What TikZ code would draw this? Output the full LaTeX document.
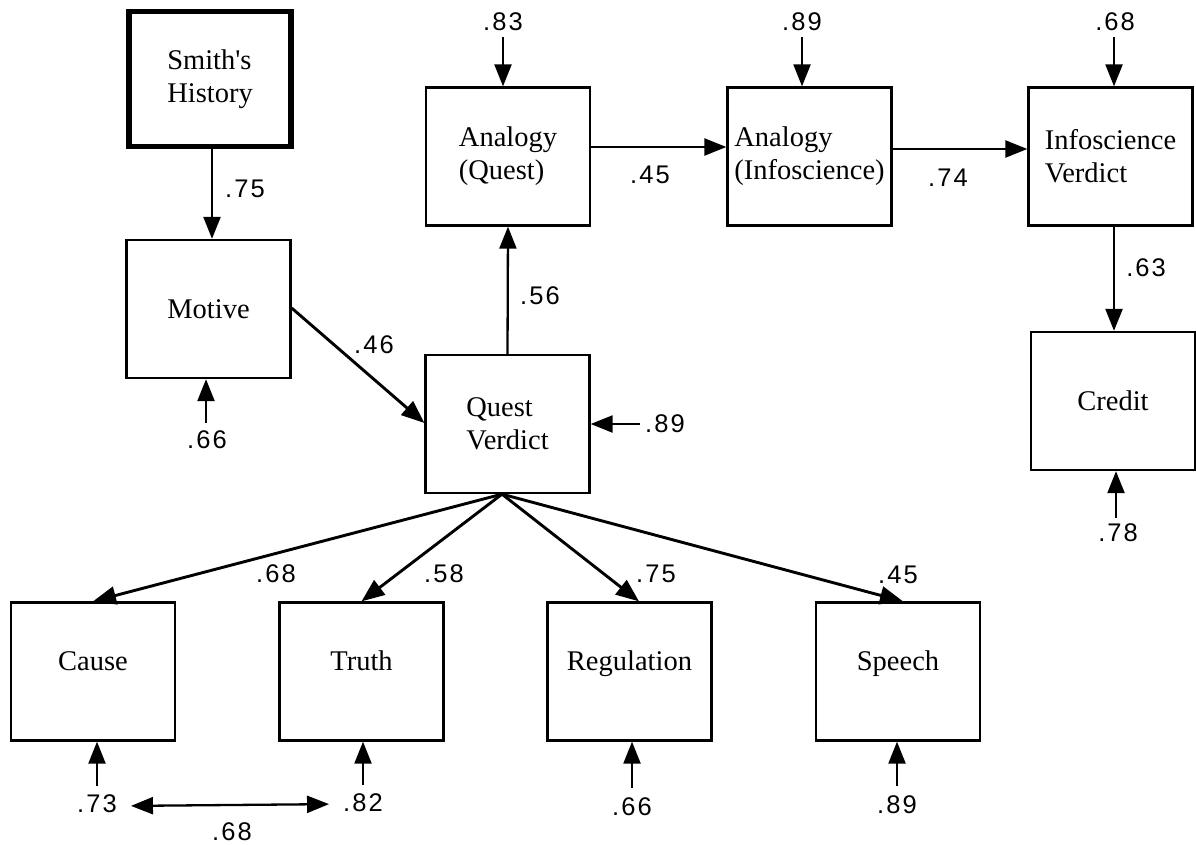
\documentclass[tikz,border=0pt]{standalone}
\usepackage{fontspec}
\setmainfont{Liberation Serif}
\newfontfamily\numfont[LetterSpace=8]{Liberation Sans}
\usetikzlibrary{arrows.meta}
\begin{document}
\begin{tikzpicture}[x=1pt,y=-1pt,
  box/.style={draw, line width=2.3pt, minimum width=164pt, minimum height=138pt,
    inner sep=0pt, align=left, font=\fontsize{28.5}{33}\selectfont},
  lowbox/.style={box, text height=19pt, text depth=22pt},
  num/.style={inner sep=0pt, font=\numfont\fontsize{25.5}{28}\selectfont},
  arr/.style={line width=2.3pt, -{Triangle[length=22pt,width=17pt]}},
  thickarr/.style={line width=2.9pt, -{Triangle[length=23pt,width=18pt]}},
  dblarr/.style={line width=2.3pt, {Triangle[length=22pt,width=17pt]}-{Triangle[length=22pt,width=17pt]}},
]
\useasboundingbox (0,0) rectangle (1196,844);
% boxes
\node[box, line width=5.5pt, minimum width=162pt, minimum height=135pt] (smith) at (210,79) {Smith\textquotesingle s\\History};
\node[box] (motive) at (208.5,309) {Motive};
\node[box] (qv) at (507.5,424) {Quest\\Verdict};
\node[box] (aq) at (508,156.5) {Analogy\\(Quest)};
\node[box] (ai) at (809.5,156.5) {Analogy\\(Infoscience)};
\node[box] (iv) at (1110.5,156.5) {Infoscience\\Verdict};
\node[box] (credit) at (1113,401) {Credit};
\node[lowbox] (cause) at (93,671.5) {Cause};
\node[lowbox] (truth) at (361.5,671.5) {Truth};
\node[lowbox] (reg) at (629.5,671.5) {Regulation};
\node[lowbox] (speech) at (898,671.5) {Speech};
% error / residual labels
\node[num] (e83) at (503,22) {.83};
\node[num] (e89a) at (802,22) {.89};
\node[num] (e68i) at (1115,22) {.68};
\node[num] (e89q) at (665,424) {.89};
\node[num] (e66m) at (207,440) {.66};
\node[num] (e78) at (1118,533) {.78};
\node[num] (e73) at (97,804) {.73};
\node[num] (e82) at (363,803) {.82};
\node[num] (e66r) at (632,807) {.66};
\node[num] (e89s) at (897,805) {.89};
% path coefficient labels
\node[num] (l75a) at (245,189) {.75};
\node[num] (l46) at (374,345) {.46};
\node[num] (l56) at (540,296) {.56};
\node[num] (l45a) at (650,175) {.45};
\node[num] (l74) at (948,178) {.74};
\node[num] (l63) at (1146,268) {.63};
\node[num] (l68c) at (276,574) {.68};
\node[num] (l58) at (444,574) {.58};
\node[num] (l75b) at (656,574) {.75};
\node[num] (l45b) at (898,575) {.45};
\node[num] (l68v) at (232,832) {.68};
% structural paths
\draw[arr] ([xshift=2pt]smith.south) -- ([xshift=3.5pt]motive.north);
\draw[thickarr] ([yshift=1pt]motive.east) -- ([yshift=1pt]qv.west);
\draw[arr] (qv.north) -- (aq.south);
\draw[arr] ([yshift=9.5pt]aq.east) -- ([yshift=9.5pt]ai.west);
\draw[arr] ([yshift=7.5pt]ai.east) -- ([yshift=7.5pt]iv.west);
\draw[arr] ([xshift=3.5pt]iv.south) -- ([xshift=1pt]credit.north);
\coordinate (fan) at ([xshift=-5.5pt]qv.south);
\draw[thickarr] (fan) -- (cause.north);
\draw[thickarr] (fan) -- (truth.north);
\draw[thickarr] (fan) -- ([xshift=9.5pt]reg.north);
\draw[thickarr] (fan) -- ([xshift=5pt]speech.north);
% residual arrows
\draw[arr, shorten <=6pt] (e83.south) -- (e83.south |- aq.north);
\draw[arr, shorten <=6pt] (e89a.south) -- (e89a.south |- ai.north);
\draw[arr, shorten <=6pt] ([xshift=-1pt]e68i.south) -- ([xshift=-1pt]e68i.south |- iv.north);
\draw[arr, shorten <=5pt] (e89q.west) -- (e89q.west -| qv.east);
\draw[arr, shorten <=8pt] ([xshift=-1pt]e66m.north) -- ([xshift=-1pt]e66m.north |- motive.south);
\draw[arr, shorten <=6pt] ([xshift=-2pt]e78.north) -- ([xshift=-2pt]e78.north |- credit.south);
\draw[arr, shorten <=9pt] (e73.north) -- (e73.north |- cause.south);
\draw[arr, shorten <=9pt] (e82.north) -- (e82.north |- truth.south);
\draw[arr, shorten <=10pt] (e66r.north) -- (e66r.north |- reg.south);
\draw[arr, shorten <=10pt] (e89s.north) -- (e89s.north |- speech.south);
% correlated residuals
\draw[dblarr, shorten <=14pt, shorten >=14pt] ([yshift=-2pt]e73.east) -- ([yshift=-1pt]e82.west);
\end{tikzpicture}
\end{document}
